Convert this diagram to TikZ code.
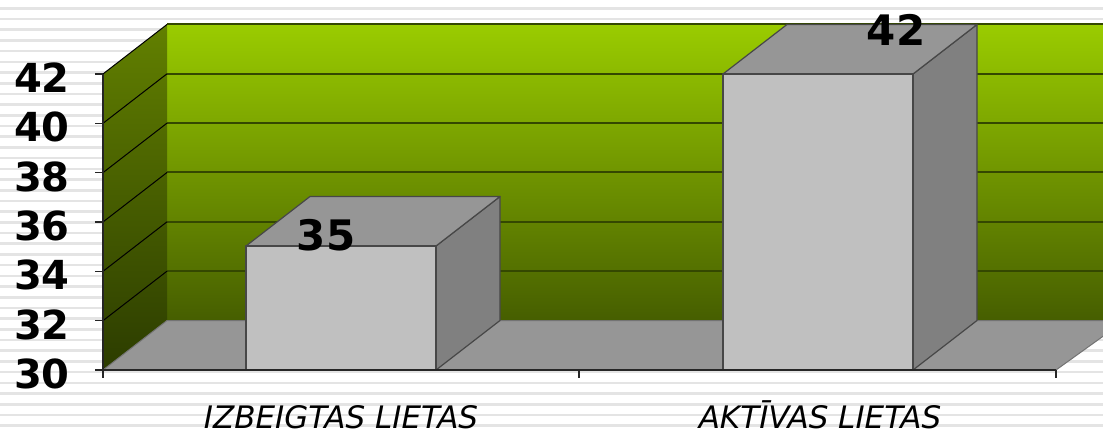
\documentclass[tikz,border=0pt]{standalone}
\usepackage{fontspec}
\setmainfont{DejaVu Sans}
\usepackage{tikz}
\usetikzlibrary{calc}

\definecolor{wallTop}{RGB}{154,204,0}
\definecolor{wallBot}{RGB}{70,94,0}
\definecolor{sideTop}{RGB}{98,128,0}
\definecolor{sideBot}{RGB}{44,60,0}
\definecolor{gridGreen}{RGB}{52,72,0}
\definecolor{floorGray}{RGB}{150,150,150}
\definecolor{barFront}{RGB}{192,192,192}
\definecolor{barTop}{RGB}{150,150,150}
\definecolor{barSide}{RGB}{128,128,128}
\definecolor{stripeGray}{RGB}{228,228,228}

\begin{document}
\begin{tikzpicture}[x=1pt, y=-1pt,
    stripe/.style={draw=stripeGray, line width=2.6pt},
    grid/.style={draw=gridGreen, line width=2pt},
    face/.style={draw=black!72, line width=1.2pt, line join=round},
    floor/.style={draw=black!55, line width=1pt, fill=floorGray, line join=round},
    axis/.style={draw=black!85, line width=1.4pt},
    ticklabel/.style={
      font=\fontsize{40}{40}\selectfont\bfseries,
      anchor=east,
      inner sep=0pt
    },
    catlabel/.style={
      font=\fontsize{31}{31}\selectfont\itshape,
      anchor=base,
      inner sep=0pt
    },
    vallabel/.style={
      font=\fontsize{42}{42}\selectfont\bfseries,
      anchor=base,
      inner sep=0pt
    }
]

\useasboundingbox (0,0) rectangle (1103,434);
\clip (0,0) rectangle (1103,434);
\fill[white] (0,0) rectangle (1103,434);

%% Background stripes
\foreach \s in {0,...,40}
  \draw[stripe] (0,{8.3+\s*10.7}) -- (1103,{8.3+\s*10.7});

%% Walls
\shade[top color=wallTop, bottom color=wallBot] (167,24.5) rectangle (1110,320.5);
\shade[top color=sideTop, bottom color=sideBot] (103,74) -- (167,24.5) -- (167,320.5) -- (103,370) -- cycle;

%% Grid
\foreach \v in {32,34,...,42} {
  \draw[grid] (167,{320.5-(\v-30)*24.67}) -- (1110,{320.5-(\v-30)*24.67});
  \draw[black, line width=1pt] (103,{370-(\v-30)*24.67}) -- (167,{320.5-(\v-30)*24.67});
}

%% Floor
\filldraw[floor] (103,370) -- (167,320.5) -- (1125,320.5) -- (1056,370) -- cycle;

%% Bars
\filldraw[face, fill=barSide] (436,246) -- (500,196.5) -- (500,320.5) -- (436,370) -- cycle;
\filldraw[face, fill=barTop] (246,246) -- (310,196.5) -- (500,196.5) -- (436,246) -- cycle;
\filldraw[face, fill=barFront] (246,246) rectangle (436,370);

\filldraw[face, fill=barSide] (913,74) -- (977,24.5) -- (977,320.5) -- (913,370) -- cycle;
\filldraw[face, fill=barTop] (723,74) -- (787,24.5) -- (977,24.5) -- (913,74) -- cycle;
\filldraw[face, fill=barFront] (723,74) rectangle (913,370);

%% Axes
\draw[axis] (103,74) -- (103,370) -- (1056,370);
\foreach \v in {30,32,...,42} {
  \draw[axis] (95,{370-(\v-30)*24.67}) -- (103,{370-(\v-30)*24.67});
  \node[ticklabel] (tick\v) at (70,{374-(\v-30)*24.67}) {\v};
}
\foreach \x in {103,579,1056}
  \draw[axis] (\x,370) -- (\x,378);

%% Labels
\node[catlabel] (izbeigtas) at (341,428) {IZBEIGTAS LIETAS};
\node[catlabel] (aktivas) at (820,428) {AKTĪVAS LIETAS};
\node[vallabel] (val35) at (326,250) {35};
\node[vallabel] (val42) at (896,45) {42};

\end{tikzpicture}
\end{document}
